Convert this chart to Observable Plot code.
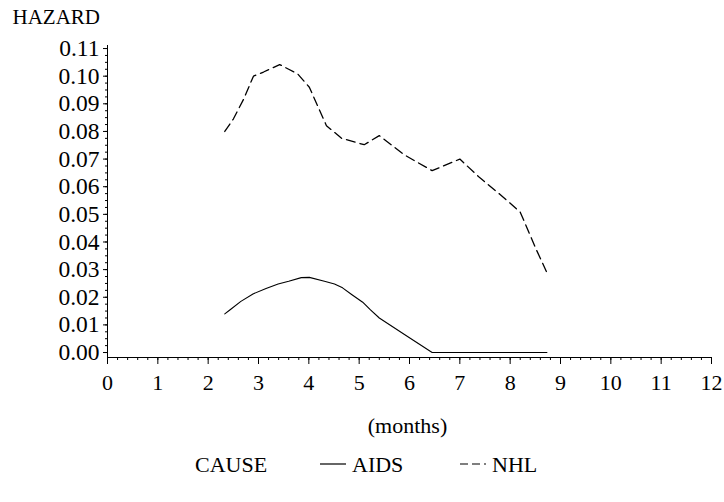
<!DOCTYPE html>
<html>
<head>
<meta charset="utf-8">
<script src="https://cdn.jsdelivr.net/npm/d3@7"></script>
<script src="https://cdn.jsdelivr.net/npm/@observablehq/plot@0.6"></script>
</head>
<body style="margin:0;padding:0;background:white">
<div id="wrap" style="width:724px;font-family:'Liberation Serif';color:black"></div>
<script>
// ---- data ----
const xTicks = [0, 1, 2, 3, 4, 5, 6, 7, 8, 9, 10, 11, 12];
const yTicks = [0, 0.01, 0.02, 0.03, 0.04, 0.05, 0.06, 0.07, 0.08, 0.09, 0.10, 0.11];

const aidsMonths = [2.33, 2.43, 2.65, 2.89, 3.15, 3.39, 3.60, 3.85, 4.01, 4.31, 4.51, 4.67, 4.85, 5.07, 5.22, 5.40, 5.90, 6.45, 8.73];
const aidsHazard = [0.0140, 0.0154, 0.0185, 0.0212, 0.0232, 0.0248, 0.0258, 0.0271, 0.0272, 0.0258, 0.0248, 0.0234, 0.0210, 0.0182, 0.0155, 0.0125, 0.0065, 0.0000, 0.0000];

const nhlMonths = [2.33, 2.50, 2.70, 2.90, 3.10, 3.42, 3.60, 3.78, 4.01, 4.35, 4.65, 5.10, 5.40, 5.90, 6.45, 7.00, 7.40, 7.80, 8.20, 8.30, 8.50, 8.74];
const nhlHazard = [0.0800, 0.0845, 0.0915, 0.1000, 0.1015, 0.1042, 0.1025, 0.1008, 0.0960, 0.0821, 0.0775, 0.0752, 0.0785, 0.0715, 0.0658, 0.0700, 0.0632, 0.0572, 0.0508, 0.0466, 0.0380, 0.0285];

const causes = ["AIDS", "NHL"];
const dashes = {AIDS: null, NHL: "9,5"};

// tables built from the arrays
const aids = aidsMonths.map((m, i) => ({months: m, hazard: aidsHazard[i], cause: "AIDS"}));
const nhl = nhlMonths.map((m, i) => ({months: m, hazard: nhlHazard[i], cause: "NHL"}));
const minorX = d3.range(0, 61).map(i => i * 0.2);
const minorY = d3.range(0, 45).map(i => i * 0.0025);

const FONT = "Liberation Serif";

const chart = Plot.plot({
  width: 724,
  height: 440,
  marginLeft: 107,
  marginRight: 13,
  marginTop: 45,
  marginBottom: 83,
  x: {domain: [0, 12]},
  y: {domain: [-0.0018, 0.1111]},
  style: {fontFamily: FONT, fontSize: "22px", color: "black", background: "white", overflow: "visible"},
  marks: [
    Plot.frame({anchor: "left", stroke: "black"}),
    Plot.frame({anchor: "bottom", stroke: "black"}),
    Plot.axisX({ticks: minorX, tickSize: 3, tickFormat: () => "", label: null}),
    Plot.axisY({ticks: minorY, tickSize: 2, tickFormat: () => "", label: null}),
    Plot.axisX({ticks: xTicks, tickSize: 7, tickPadding: 10, tickFormat: d => String(d), label: null, fontSize: 22}),
    Plot.axisY({ticks: yTicks, tickSize: 4, tickPadding: 4, tickFormat: d3.format(".2f"), label: null, fontSize: 23.5}),
    Plot.line(aids, {x: "months", y: "hazard", stroke: "black", strokeWidth: 1.1}),
    Plot.line(nhl, {x: "months", y: "hazard", stroke: "black", strokeWidth: 1.3, strokeDasharray: dashes.NHL}),
    Plot.text(["(months)"], {text: d => d, frameAnchor: "bottom", lineAnchor: "middle", dx: -2, dy: 68, fontSize: 22}),
    Plot.text(["HAZARD"], {text: d => d, frameAnchor: "top-left", textAnchor: "start", lineAnchor: "middle", dx: -95, dy: -28, fontSize: 21})
  ]
});

d3.select(chart).attr("font-family", FONT).style("font-family", FONT);

const wrap = document.getElementById("wrap");
wrap.appendChild(chart);

// legend below the chart
const legend = document.createElement("div");
legend.style.cssText = "position:relative;width:724px;height:62px;font-size:22px;font-family:'Liberation Serif'";
const addText = (txt, left) => {
  const s = document.createElement("span");
  s.style.cssText = `position:absolute;left:${left}px;top:25px;transform:translateY(-50%);line-height:1;white-space:nowrap`;
  s.textContent = txt;
  legend.appendChild(s);
};
const addSample = (cause, left) => {
  const svg = d3.create("svg").attr("width", 26).attr("height", 4)
    .style("position", "absolute").style("left", left + "px").style("top", "22px").style("overflow", "visible");
  svg.append("line").attr("x1", 0).attr("x2", 26).attr("y1", 2).attr("y2", 2)
    .attr("stroke", "black").attr("stroke-width", 1.2)
    .attr("stroke-dasharray", dashes[cause] ? "8,4" : null);
  legend.appendChild(svg.node());
};
addText("CAUSE", 195);
addSample(causes[0], 320);
addText(causes[0], 352);
addSample(causes[1], 460);
addText(causes[1], 492);
wrap.appendChild(legend);
</script>
</body>
</html>
